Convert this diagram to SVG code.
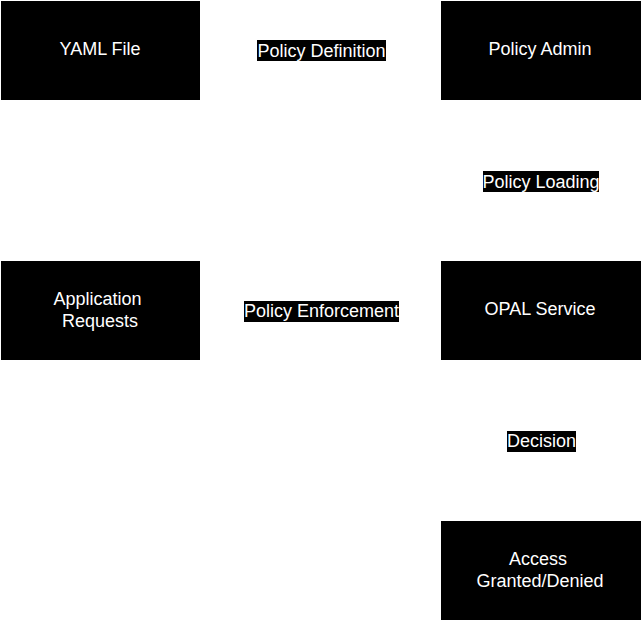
<svg xmlns="http://www.w3.org/2000/svg" width="641" height="621" viewBox="0 0 641 621">
<style>
.box{fill:#000;}
.t{font-family:"Liberation Sans",Arial,sans-serif;font-size:18px;fill:#fff;text-anchor:middle;dominant-baseline:central;}
.edge{stroke:#fff;stroke-width:1;fill:none;}
.lbg{fill:#000;}
</style>
<defs>
<marker id="arr" markerWidth="8" markerHeight="8" refX="7" refY="4" orient="auto" markerUnits="userSpaceOnUse">
<path d="M0,0 L8,4 L0,8 Z" fill="#fff"/>
</marker>
</defs>
<rect width="641" height="621" fill="#fff"/>
<g id="connectors">
<g id="e1"><path class="edge" d="M200,50 L441,50" marker-end="url(#arr)"/><rect class="lbg" x="257" y="40" width="129" height="21"/><text class="t" x="321.5" y="50.5">Policy Definition</text></g>
<g id="e2"><path class="edge" d="M541,100 L541,261" marker-end="url(#arr)"/><rect class="lbg" x="483" y="171" width="116" height="21"/><text class="t" x="541" y="181.5">Policy Loading</text></g>
<g id="e3"><path class="edge" d="M200,310 L441,310" marker-end="url(#arr)"/><rect class="lbg" x="244" y="301" width="155" height="21"/><text class="t" x="321.5" y="311">Policy Enforcement</text></g>
<g id="e4"><path class="edge" d="M541,360 L541,521" marker-end="url(#arr)"/><rect class="lbg" x="507" y="431" width="69" height="21"/><text class="t" x="541.5" y="441">Decision</text></g>
</g>
<g id="yaml"><rect class="box" x="1" y="1" width="199" height="99"/><text class="t" x="100" y="49">YAML File</text></g>
<g id="admin"><rect class="box" x="441" y="1" width="200" height="99"/><text class="t" x="540" y="49">Policy Admin</text></g>
<g id="app"><rect class="box" x="1" y="261" width="199" height="99"/><text class="t" x="97.5" y="298.5">Application</text><text class="t" x="100" y="320.5">Requests</text></g>
<g id="opal"><rect class="box" x="441" y="261" width="200" height="99"/><text class="t" x="540" y="309">OPAL Service</text></g>
<g id="access"><rect class="box" x="441" y="521" width="200" height="99"/><text class="t" x="538" y="558.5">Access</text><text class="t" x="540" y="580.5">Granted/Denied</text></g>
</svg>
